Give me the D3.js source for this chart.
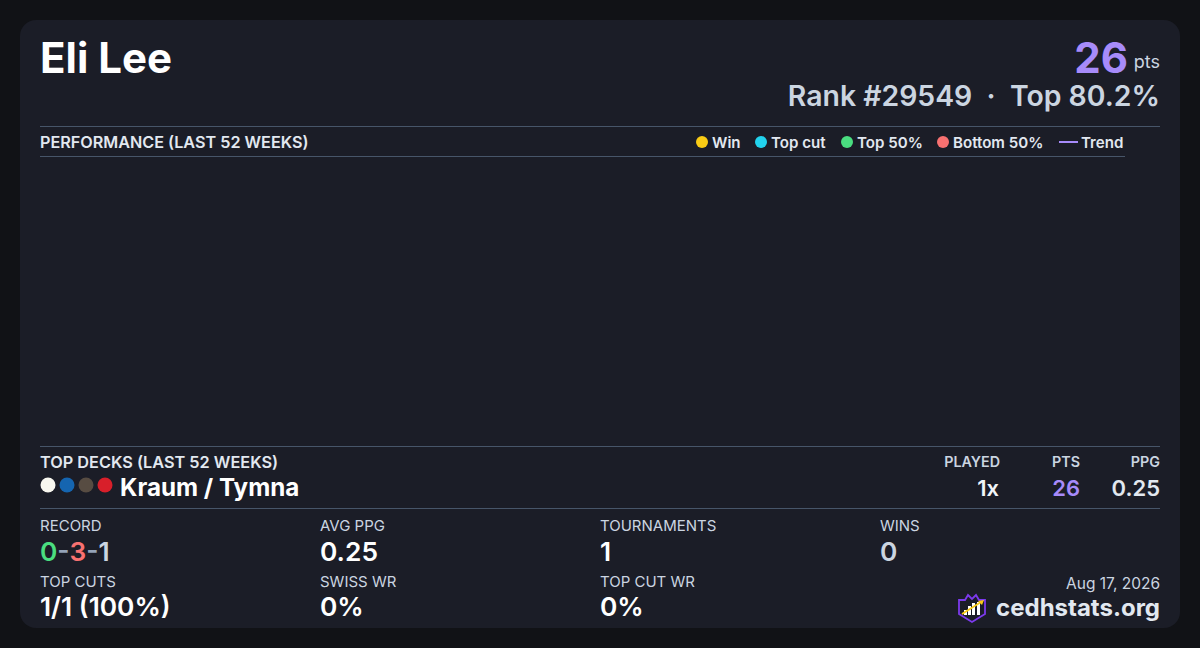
<!DOCTYPE html>
<html><head><meta charset="utf-8">
<script src="https://cdn.jsdelivr.net/npm/d3@7"></script>
<style>html,body{margin:0;padding:0;background:#111216;}svg{display:block;}</style>
</head><body>
<svg id="c" width="1200" height="648"></svg>
<script>
const playerName = "Eli Lee";
const totalPoints = 26;
const rankText = "Rank #29549  ·  Top 80.2%";
const legendLabels = ["Win", "Top cut", "Top 50%", "Bottom 50%", "Trend"];
const legendColors = ["#facc15", "#22d3ee", "#4ade80", "#f87171", "#a78bfa"];
const weeklyResults = []; // no placements in the last 52 weeks chart
const deckNames = ["Kraum / Tymna"];
const deckColors = [["#f8f7ef", "#1565b0", "#574c42", "#d81f2a"]];
const deckPlayed = ["1x"];
const deckPts = [26];
const deckPpg = ["0.25"];
const statLabels = ["RECORD", "AVG PPG", "TOURNAMENTS", "WINS", "TOP CUTS", "SWISS WR", "TOP CUT WR"];
const statValues = ["0-3-1", "0.25", "1", "0", "1/1 (100%)", "0%", "0%"];
const recordParts = [0, 3, 1];
const dateText = "Aug 17, 2026";

const svg = d3.select("#c");
const F = "Inter, 'Noto Sans', sans-serif";
svg.append("rect").attr("x",20).attr("y",20).attr("width",1160).attr("height",608).attr("rx",16).attr("fill","#1b1d27");

svg.append("text").attr("x",40).attr("y",73).attr("font-family",F).attr("font-size",42).attr("font-weight",700).attr("fill","#ffffff").text(playerName);
svg.append("text").attr("x",1160).attr("y",68).attr("text-anchor","end").attr("font-family",F).attr("font-size",18).attr("fill","#cbd5e1").text("pts");
svg.append("text").attr("x",1128).attr("y",73).attr("text-anchor","end").attr("font-family",F).attr("font-size",42).attr("font-weight",700).attr("fill","#a78bfa").text(totalPoints);
svg.append("text").attr("x",1160).attr("y",106).attr("text-anchor","end").attr("font-family",F).attr("font-size",28.4).attr("font-weight",600).attr("fill","#cbd5e1").style("white-space","pre").text(rankText);

const line = (x1,x2,y)=>svg.append("line").attr("x1",x1).attr("x2",x2).attr("y1",y).attr("y2",y).attr("stroke","#475569").attr("stroke-width",1);
line(40,1160,126.5);
line(40,1125,156.5);
line(40,1160,446.5);
line(40,1160,508.5);

svg.append("text").attr("x",40).attr("y",148).attr("font-family",F).attr("font-size",16.2).attr("font-weight",600).attr("fill","#e2e8f0").text("PERFORMANCE (LAST 52 WEEKS)");

// legend
const legendX = [702, 761, 847, 943, 1059];
const lg = svg.append("g");
legendLabels.forEach((l,i)=>{
  if (l === "Trend") {
    lg.append("line").attr("x1",legendX[i]).attr("x2",legendX[i]+19).attr("y1",142).attr("y2",142).attr("stroke",legendColors[i]).attr("stroke-width",2);
    lg.append("text").attr("x",legendX[i]+22).attr("y",147.5).attr("font-family",F).attr("font-size",15.1).attr("font-weight",600).attr("fill","#e2e8f0").text(l);
  } else {
    lg.append("circle").attr("cx",legendX[i]).attr("cy",142).attr("r",6).attr("fill",legendColors[i]);
    lg.append("text").attr("x",legendX[i]+10).attr("y",147.5).attr("font-family",F).attr("font-size",15.1).attr("font-weight",600).attr("fill","#e2e8f0").text(l);
  }
});

// chart area (empty data)
const xS = d3.scaleLinear().domain([0,51]).range([40,1160]);
const yS = d3.scaleLinear().domain([0,1]).range([436,166]);
svg.append("g").selectAll("circle").data(weeklyResults).join("circle")
  .attr("cx",d=>xS(d.week)).attr("cy",d=>yS(d.value)).attr("r",5).attr("fill",d=>legendColors[d.type]);

// top decks
svg.append("text").attr("x",40).attr("y",468).attr("font-family",F).attr("font-size",16.3).attr("font-weight",600).attr("fill","#e2e8f0").text("TOP DECKS (LAST 52 WEEKS)");
const hdr = [["PLAYED",1000],["PTS",1080],["PPG",1160]];
hdr.forEach(h=>svg.append("text").attr("x",h[1]).attr("y",467).attr("text-anchor","end").attr("font-family",F).attr("font-size",14.3).attr("font-weight",600).attr("fill","#cbd5e1").text(h[0]));
deckNames.forEach((n,i)=>{
  const y = 496;
  const cx = d3.scaleLinear().domain([0,3]).range([48,105]);
  deckColors[i].forEach((c,j)=>svg.append("circle").attr("cx",cx(j)).attr("cy",y-11).attr("r",7.5).attr("fill",c));
  svg.append("text").attr("x",120).attr("y",y).attr("font-family",F).attr("font-size",24.2).attr("font-weight",700).attr("fill","#ffffff").text(n);
  svg.append("text").attr("x",999).attr("y",y).attr("text-anchor","end").attr("font-family",F).attr("font-size",22).attr("font-weight",600).attr("fill","#f1f5f9").text(deckPlayed[i]);
  svg.append("text").attr("x",1080).attr("y",y).attr("text-anchor","end").attr("font-family",F).attr("font-size",22).attr("font-weight",600).attr("fill","#a78bfa").text(deckPts[i]);
  svg.append("text").attr("x",1160).attr("y",y).attr("text-anchor","end").attr("font-family",F).attr("font-size",22).attr("font-weight",600).attr("fill","#e2e8f0").text(deckPpg[i]);
});

// stats
const colX = [40,320,600,880];
statLabels.forEach((l,i)=>{
  const x = colX[i%4], row = Math.floor(i/4);
  const ly = 531 + row*56, vy = 561 + row*55;
  svg.append("text").attr("x",x).attr("y",ly).attr("font-family",F).attr("font-size",15).attr("fill","#cbd5e1").text(l);
  const t = svg.append("text").attr("x",x).attr("y",vy).attr("font-family",F).attr("font-size",26.3).attr("font-weight",600).attr("fill", l==="WINS" ? "#cbd5e1" : "#ffffff");
  if (l === "RECORD") {
    const cols = ["#4ade80","#f87171","#cbd5e1"];
    recordParts.forEach((p,j)=>{
      if (j>0) t.append("tspan").attr("fill","#94a3b8").text("-");
      t.append("tspan").attr("fill",cols[j]).text(p);
    });
  } else t.text(statValues[i]);
});

svg.append("text").attr("x",1160).attr("y",589).attr("text-anchor","end").attr("font-family",F).attr("font-size",15.5).attr("fill","#cbd5e1").text(dateText);
svg.append("text").attr("x",1160).attr("y",616).attr("text-anchor","end").attr("font-family",F).attr("font-size",24).attr("font-weight",700).attr("fill","#e2e8f0").text("cedhstats.org");

// logo
const lgo = svg.append("g").attr("transform","translate(958,594)");
lgo.append("path").attr("d","M1,6 L7,6 L10,1 L14,5 L18,1 L21,6 L27,6 L27,20 L14,28 L1,20 Z").attr("fill","#1b1d27").attr("stroke","#7c3aed").attr("stroke-width",1.8);
[[6,16,3,5],[10,12,3,9],[14,9,3,12],[19,8,3,13]].forEach(b=>lgo.append("rect").attr("x",b[0]).attr("y",b[1]).attr("width",b[2]).attr("height",b[3]).attr("fill","#ffffff"));
lgo.append("line").attr("x1",4).attr("y1",20).attr("x2",23).attr("y2",8).attr("stroke","#facc15").attr("stroke-width",1.8);
lgo.append("path").attr("d","M26,6 L20,7 L24,11 Z").attr("fill","#facc15");
</script>
</body></html>
